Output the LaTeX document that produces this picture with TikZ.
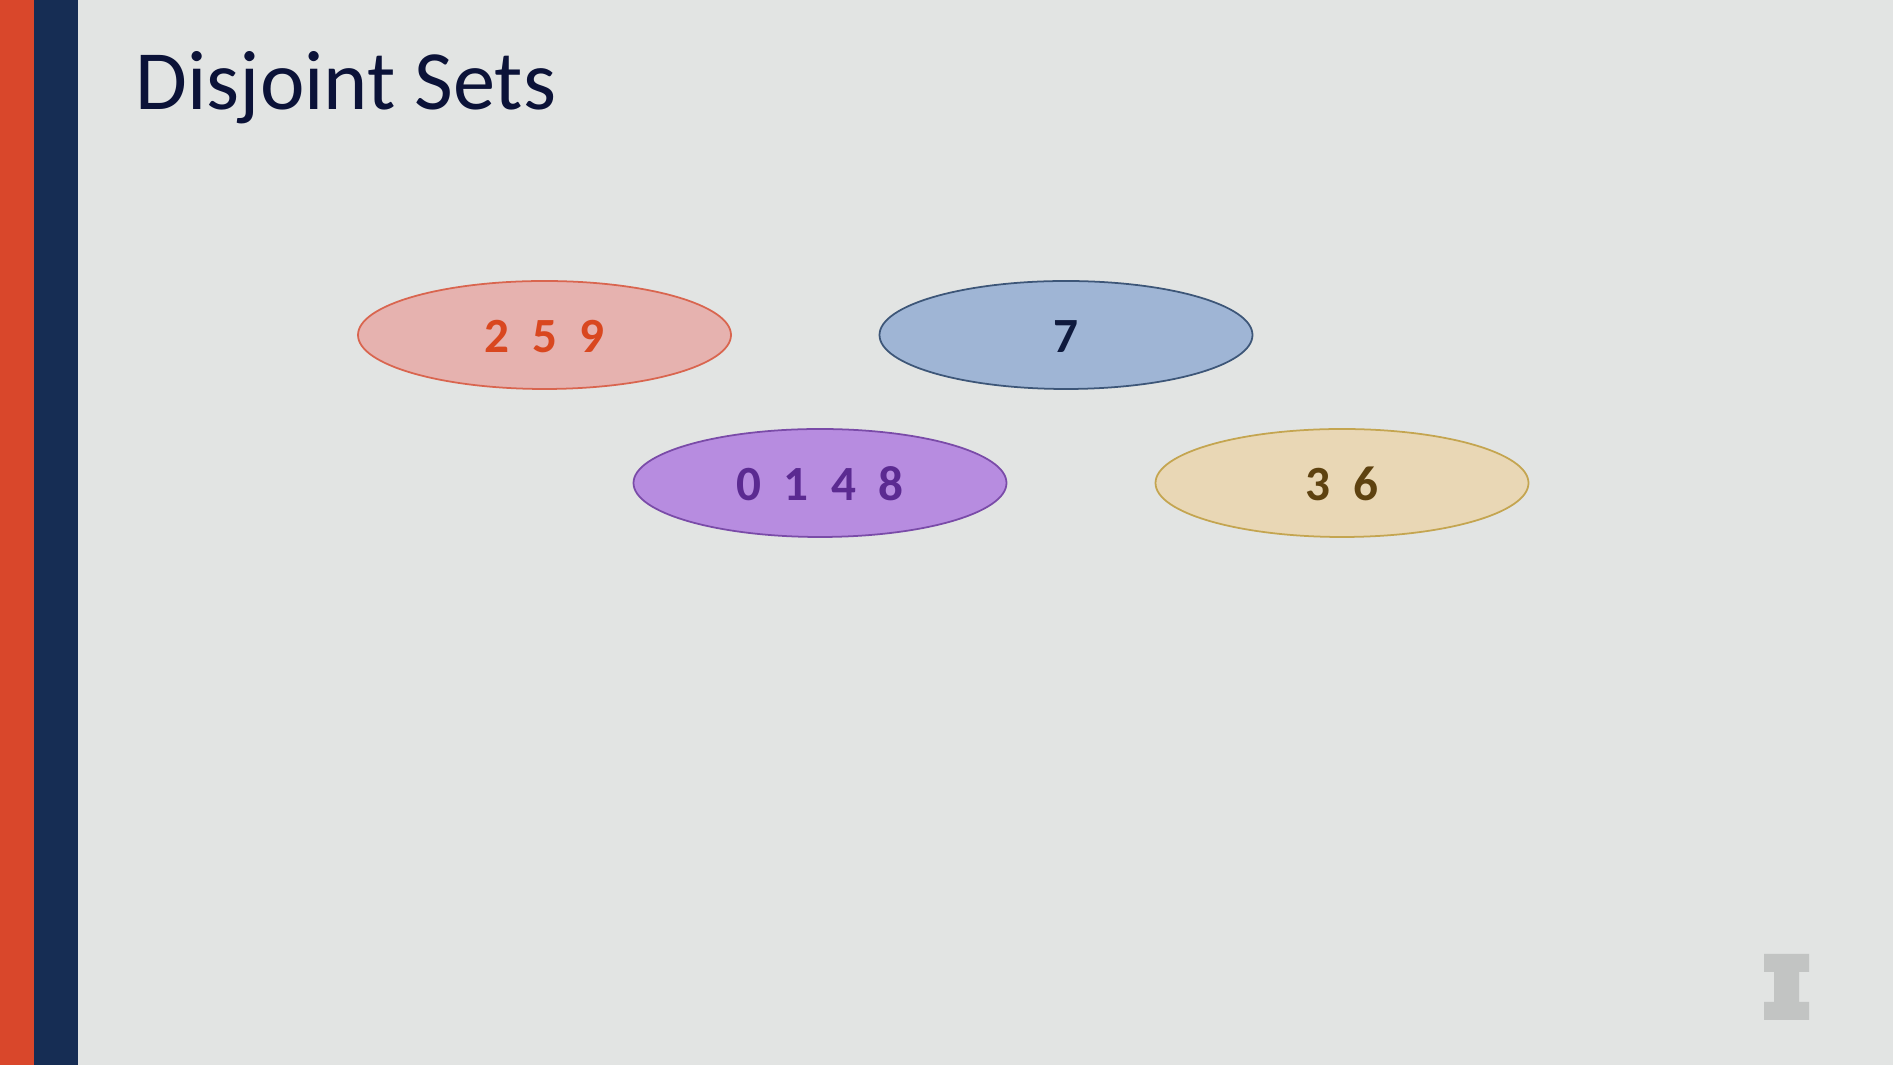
\documentclass[tikz,border=0pt]{standalone}
\usepackage{fontspec}
\setmainfont{Carlito}
\newfontfamily\setdigits[WordSpace=2]{Carlito}
\usetikzlibrary{shapes.geometric}
\definecolor{slidebg}{HTML}{E2E4E3}
\definecolor{barorange}{HTML}{D9472B}
\definecolor{barnavy}{HTML}{162D54}
\definecolor{titleink}{HTML}{0B1238}
\definecolor{redfill}{HTML}{E6B2AF}
\definecolor{redline}{HTML}{D9654F}
\definecolor{redink}{HTML}{D9471F}
\definecolor{bluefill}{HTML}{9FB5D5}
\definecolor{blueline}{HTML}{3D5678}
\definecolor{blueink}{HTML}{0F1A3D}
\definecolor{purplefill}{HTML}{B78CE0}
\definecolor{purpleline}{HTML}{7A4BA8}
\definecolor{purpleink}{HTML}{5B2A91}
\definecolor{tanfill}{HTML}{E9D7B5}
\definecolor{tanline}{HTML}{C4A550}
\definecolor{tanink}{HTML}{5E4210}
\definecolor{logogrey}{HTML}{C2C4C3}
\begin{document}
\begin{tikzpicture}[line cap=round]
\tikzset{setnode/.style={draw,ellipse,inner sep=0pt,minimum width=3.73cm,minimum height=1.08cm,text height=10pt,text depth=0pt,line width=0.5pt,font=\setdigits\fontsize{14}{16}\selectfont\bfseries}}

\useasboundingbox (0,0) rectangle (18.93,10.65);
\fill[slidebg] (0,0) rectangle (18.93,10.65);
\fill[barorange] (0,0) rectangle (0.34,10.65);
\fill[barnavy] (0.34,0) rectangle (0.78,10.65);

\node[anchor=base west,inner sep=0pt,text=titleink,font=\fontsize{24}{27}\selectfont] (title) at (1.35,9.55) {Disjoint Sets};

\node[setnode,fill=redfill,draw=redline,text=redink] (s259) at (5.445,7.3) {2 5 9};
\node[setnode,fill=bluefill,draw=blueline,text=blueink] (s7) at (10.66,7.3) {7};
\node[setnode,fill=purplefill,draw=purpleline,text=purpleink] (s0148) at (8.2,5.82) {0 1 4 8};
\node[setnode,fill=tanfill,draw=tanline,text=tanink] (s36) at (13.42,5.82) {3 6};

\fill[logogrey] (17.64,0.45) -- (18.09,0.45) -- (18.09,0.63) -- (17.99,0.63) -- (17.99,0.93) -- (18.09,0.93) -- (18.09,1.11) -- (17.64,1.11) -- (17.64,0.93) -- (17.74,0.93) -- (17.74,0.63) -- (17.64,0.63) -- cycle;
\end{tikzpicture}
\end{document}
